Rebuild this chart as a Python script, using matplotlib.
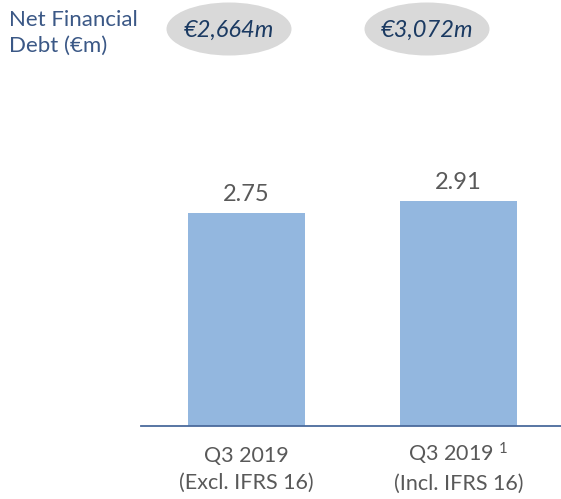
import matplotlib
matplotlib.use("Agg")
import matplotlib.pyplot as plt
import matplotlib.transforms as mtransforms
from matplotlib.patches import Ellipse

plt.rcParams['font.family'] = ['Lato', 'DejaVu Sans']
plt.rcParams['mathtext.fontset'] = 'custom'
plt.rcParams['mathtext.rm'] = 'Lato'
plt.rcParams['mathtext.default'] = 'regular'

# Data
categories = ['Q3 2019\n(Excl. IFRS 16)', 'Q3 2019 $^{1}$\n(Incl. IFRS 16)']
values = [2.75, 2.91]
debt_labels = ['€2,664m', '€3,072m']
title = 'Net Financial\nDebt (€m)'

W, H = 561, 499
fig = plt.figure(figsize=(W / 100, H / 100), dpi=100)

bar_color = '#93B7DF'
axis_color = '#4A6A9C'
grey = '#595959'

# main bar axes, placed in pixel terms
ax_left, ax_right, ax_bottom, ax_top = 141, 561, 426, 80
ax = fig.add_axes([ax_left / W, (H - ax_bottom) / H,
                   (ax_right - ax_left) / W, (ax_bottom - ax_top) / H])

x = range(len(values))
bars = ax.bar(x, values, width=0.552, color=bar_color, linewidth=0)
ax.set_xlim(-0.498, 1.483)
ax.set_ylim(0, 4.47)

for rect, v in zip(bars, values):
    ax.text(rect.get_x() + rect.get_width() / 2, v + 0.1, '{:.2f}'.format(v),
            ha='center', va='bottom', fontsize=17, color=grey)

for s in ['top', 'right', 'left']:
    ax.spines[s].set_visible(False)
ax.spines['bottom'].set_color(axis_color)
ax.spines['bottom'].set_linewidth(1.3)
ax.set_yticks([])
ax.set_xticks(list(x))
ax.set_xticklabels(categories, fontsize=15.5, color=grey, linespacing=1.45)
ax.tick_params(axis='x', length=0, pad=12)

# mathtext makes the second label sit a bit lower; even them out
for lab, dy in zip(ax.get_xticklabels(), [-3, 2]):
    lab.set_transform(lab.get_transform() +
                      mtransforms.ScaledTranslation(0, dy / 100,
                                                    fig.dpi_scale_trans))

# overlay for header elements
ov = fig.add_axes([0, 0, 1, 1])
ov.set_xlim(0, W)
ov.set_ylim(H, 0)
ov.axis('off')

ov.text(9, 33, title, ha='left', va='center', fontsize=16,
        color='#3B5886', linespacing=1.35)

for cx, lab in zip([229, 427], debt_labels):
    ov.add_patch(Ellipse((cx, 29), 125, 53, facecolor='#D9D9D9',
                         edgecolor='none'))
    ov.text(cx, 30, lab, ha='center', va='center', fontsize=17,
            style='italic', color='#1B3A62')

fig.savefig('out.png', dpi=100)
